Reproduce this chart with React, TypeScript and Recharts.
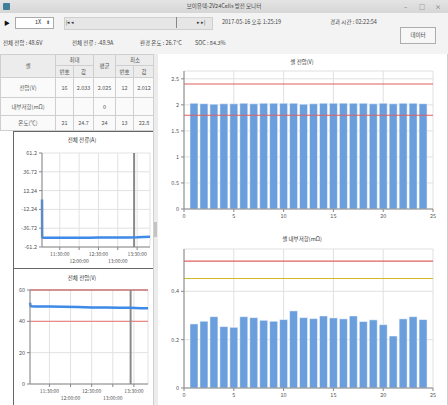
import React from 'react';
import { LineChart, Line, BarChart, Bar, XAxis, YAxis, CartesianGrid, ReferenceLine } from 'recharts';

const FONT = "'Noto Sans CJK KR', 'Noto Sans', sans-serif";

// cell numbers and per-cell values
const cellNos = [1, 2, 3, 4, 5, 6, 7, 8, 9, 10, 11, 12, 13, 14, 15, 16, 17, 18, 19, 20, 21, 22, 23, 24];
const cellVoltage = [2.03, 2.022, 2.013, 2.02, 2.02, 2.03, 2.02, 2.03, 2.03, 2.03, 2.03, 2.012, 2.02, 2.03, 2.03, 2.033, 2.03, 2.03, 2.02, 2.03, 2.02, 2.03, 2.03, 2.022];
const cellResistance = [0.265, 0.276, 0.295, 0.254, 0.251, 0.295, 0.291, 0.28, 0.276, 0.283, 0.319, 0.291, 0.287, 0.298, 0.29, 0.286, 0.298, 0.275, 0.282, 0.262, 0.215, 0.286, 0.295, 0.283];

// total current over time
const currentTimes = ['11:02:25', '11:02:40', '11:04:00', '11:15:00', '11:30:00', '11:45:00', '12:00:00', '12:15:00', '12:30:00', '12:45:00', '13:00:00', '13:15:00', '13:30:00', '13:40:00', '13:50:00'];
const currentValues = [0.8, -48.2, -49.3, -49.2, -49.2, -49.1, -49.0, -49.0, -48.9, -48.9, -48.9, -48.8, -48.6, -48.2, -47.8];

// total voltage over time
const voltageTimes = ['11:02:25', '11:03:00', '11:04:00', '11:10:00', '11:30:00', '11:50:00', '12:10:00', '12:30:00', '12:50:00', '13:10:00', '13:25:00', '13:40:00', '13:50:00'];
const voltageValues = [51.9, 50.2, 49.6, 49.5, 49.4, 49.3, 49.1, 48.9, 48.8, 48.7, 48.6, 48.4, 48.3];

const timeTicks = ['11:30:00', '12:00:00', '12:30:00', '13:00:00', '13:30:00'];
const currentTicks = [-61.2, -36.72, -12.24, 12.24, 36.72, 61.2];
const voltageTicks = [0, 20, 40, 60];
const cellVoltTicks = [0, 0.5, 1, 1.5, 2, 2.5];
const cellResTicks = [0, 0.2, 0.4];
const cellTicks = [0, 5, 10, 15, 20, 25];
const cursorTime = '13:25:19';
const timeStart = '11:02:25';
const timeEnd = '13:50:00';

const toMin = (s: string) => {
  const [h, m, sec] = s.split(':').map(Number);
  return h * 60 + m + sec / 60;
};
const fmt = (v: number) => {
  const h = Math.floor(v / 60);
  const m = Math.round(v - h * 60);
  return `${h}:${String(m).padStart(2, '0')}:00`;
};

const currentData = currentTimes.map((t, i) => ({ t: toMin(t), v: currentValues[i] }));
const voltageData = voltageTimes.map((t, i) => ({ t: toMin(t), v: voltageValues[i] }));
const cellData = cellNos.map((n, i) => ({ cell: n, volt: cellVoltage[i], res: cellResistance[i] }));

const tickStyle = { fontSize: 5.5, fill: '#555', fontFamily: FONT };

const StaggerTick = (props: any) => {
  const { x, y, payload, index } = props;
  return (
    <text x={x} y={y + (index % 2 ? 11 : 4)} textAnchor="middle" fontSize={5} fill="#555" fontFamily={FONT}>
      {fmt(payload.value)}
    </text>
  );
};

const T = ({ x, y, children, size = 6, color = '#333', anchor = 'left' }: any) => (
  <div
    style={{
      position: 'absolute',
      left: anchor === 'center' ? x - 100 : x,
      top: y - size * 0.75,
      width: anchor === 'center' ? 200 : undefined,
      textAlign: anchor === 'center' ? 'center' : 'left',
      fontSize: size,
      lineHeight: `${size * 1.5}px`,
      color,
      whiteSpace: 'nowrap',
    }}
  >
    {children}
  </div>
);

const cell: React.CSSProperties = { border: '1px solid #cfcfcf', textAlign: 'center', padding: 0, fontSize: 5.5, color: '#555' };
const head: React.CSSProperties = { ...cell, background: '#ececec' };

function StatTable() {
  return (
    <table
      style={{ position: 'absolute', left: 0, top: 54, width: 154, borderCollapse: 'collapse', tableLayout: 'fixed', background: '#fafafa' }}
    >
      <colgroup>
        <col style={{ width: 55 }} />
        <col style={{ width: 18 }} />
        <col style={{ width: 20 }} />
        <col style={{ width: 22 }} />
        <col style={{ width: 18 }} />
        <col style={{ width: 21 }} />
      </colgroup>
      <tbody>
        <tr style={{ height: 11 }}>
          <td style={head} rowSpan={2}>셀</td>
          <td style={head} colSpan={2}>최대</td>
          <td style={head} rowSpan={2}>평균</td>
          <td style={head} colSpan={2}>최소</td>
        </tr>
        <tr style={{ height: 12 }}>
          <td style={head}>번호</td>
          <td style={head}>값</td>
          <td style={head}>번호</td>
          <td style={head}>값</td>
        </tr>
        <tr style={{ height: 20 }}>
          <td style={cell}>전압(V)</td>
          <td style={cell}>16</td>
          <td style={cell}>2.033</td>
          <td style={cell}>2.025</td>
          <td style={cell}>12</td>
          <td style={cell}>2.012</td>
        </tr>
        <tr style={{ height: 18 }}>
          <td style={cell}>내부저항(mΩ)</td>
          <td style={cell}></td>
          <td style={cell}></td>
          <td style={cell}>0</td>
          <td style={cell}></td>
          <td style={cell}></td>
        </tr>
        <tr style={{ height: 15 }}>
          <td style={cell}>온도(℃)</td>
          <td style={cell}>21</td>
          <td style={cell}>24.7</td>
          <td style={cell}>24</td>
          <td style={cell}>13</td>
          <td style={cell}>22.8</td>
        </tr>
      </tbody>
    </table>
  );
}

export default function App() {
  const t0 = toMin(timeStart);
  const t1 = toMin(timeEnd);
  const cursor = toMin(cursorTime);
  const tTicks = timeTicks.map(toMin);

  return (
    <div style={{ position: 'fixed', left: 0, top: 0, width: 448, height: 405, background: '#f3f3f3', fontFamily: FONT, overflow: 'hidden' }}>
      {/* title bar */}
      <div style={{ position: 'absolute', left: 0, top: 0, width: 448, height: 13, background: 'linear-gradient(#e4e4e4, #d6d6d6)' }} />
      <div style={{ position: 'absolute', left: 3, top: 3, width: 7, height: 7, background: '#3f7f9a', borderRadius: 1 }} />
      <T x={224} y={6} anchor="center" size={5.5} color="#444">브이유텍-2V24Cells 방전 모니터</T>
      <T x={404} y={6} size={6} color="#666">–</T>
      <T x={419} y={6} size={6} color="#666">□</T>
      <T x={435} y={6} size={6} color="#666">×</T>

      {/* toolbar */}
      <T x={4} y={22} size={6} color="#111">▶</T>
      <div style={{ position: 'absolute', left: 15, top: 17, width: 37, height: 10, background: '#fff', border: '1px solid #aaa' }} />
      <T x={35} y={22} size={5.5} color="#333">1X</T>
      <T x={46} y={22} size={5} color="#555">⬍</T>
      <div style={{ position: 'absolute', left: 64, top: 17, width: 147, height: 11, background: '#e6e6e6', border: '1px solid #cfcfcf' }} />
      <T x={66} y={22} size={5} color="#333">|◂ ◂</T>
      <div style={{ position: 'absolute', left: 176, top: 17, width: 1, height: 11, background: '#888' }} />
      <T x={197} y={22} size={5} color="#333">▸ ▸|</T>
      <T x={222} y={22} size={5.5} color="#444">2017-05-16 오후 1:25:19</T>
      <T x={330} y={22} size={5.5} color="#444">경과 시간 : 02:22:54</T>
      <div
        style={{
          position: 'absolute', left: 400, top: 27, width: 34, height: 15, background: '#f7f7f7', border: '1px solid #adadad',
          fontSize: 5.5, color: '#444', textAlign: 'center', lineHeight: '15px',
        }}
      >
        데이터
      </div>

      {/* status line */}
      <T x={3} y={43} size={5.5} color="#444">전체 전압 : 48.6V</T>
      <T x={72} y={43} size={5.5} color="#444">전체 전류 : -48.9A</T>
      <T x={140} y={43} size={5.5} color="#444">환경 온도 : 26.7°C</T>
      <T x={195} y={43} size={5.5} color="#444">SOC : 84.3%</T>

      {/* left panel */}
      <div style={{ position: 'absolute', left: 0, top: 130, width: 153, height: 275, background: '#fff' }} />
      <StatTable />
      <div style={{ position: 'absolute', left: 13, top: 131, width: 139, height: 137, border: '1px solid #666', background: '#fff' }} />
      <div style={{ position: 'absolute', left: 13, top: 268, width: 139, height: 140, border: '1px solid #666', background: '#fff' }} />
      <T x={82} y={140} anchor="center" size={5.5} color="#333">전체 전류(A)</T>
      <T x={82} y={278} anchor="center" size={5.5} color="#333">전체 전압(V)</T>

      <div style={{ position: 'absolute', left: 13, top: 146 }}>
        <LineChart width={140} height={120} data={currentData} margin={{ top: 7, right: 3, left: 0, bottom: 0 }}>
          <CartesianGrid stroke="#e2e2e2" />
          <XAxis dataKey="t" type="number" domain={[t0, t1]} ticks={tTicks} interval={0} tick={<StaggerTick />} height={19} stroke="#888" tickSize={3} />
          <YAxis type="number" domain={[-61.2, 61.2]} ticks={currentTicks} interval={0} tick={tickStyle} width={29} stroke="#888" tickSize={3} />
          <ReferenceLine x={cursor} stroke="#8a8a8a" strokeWidth={2} />
          <Line dataKey="v" stroke="#3d8ae8" strokeWidth={2.5} dot={false} isAnimationActive={false} />
        </LineChart>
      </div>

      <div style={{ position: 'absolute', left: 13, top: 284 }}>
        <LineChart width={137} height={120} data={voltageData} margin={{ top: 6, right: 2, left: 0, bottom: 0 }}>
          <CartesianGrid stroke="#e2e2e2" />
          <XAxis dataKey="t" type="number" domain={[t0, t1]} ticks={tTicks} interval={0} tick={<StaggerTick />} height={20} stroke="#888" tickSize={3} />
          <YAxis type="number" domain={[0, 60]} ticks={voltageTicks} interval={0} tick={tickStyle} width={17} stroke="#888" tickSize={3} />
          <ReferenceLine y={60} stroke="#b83232" strokeWidth={1.2} />
          <ReferenceLine y={40} stroke="#ec8a8a" strokeWidth={1.2} />
          <ReferenceLine x={cursor} stroke="#8a8a8a" strokeWidth={2} />
          <Line dataKey="v" stroke="#3d8ae8" strokeWidth={2.5} dot={false} isAnimationActive={false} />
        </LineChart>
      </div>

      {/* splitter */}
      <div style={{ position: 'absolute', left: 153, top: 54, width: 5, height: 351, background: '#ececec', borderLeft: '1px solid #d0d0d0' }} />
      <div style={{ position: 'absolute', left: 154, top: 222, width: 3, height: 15, background: '#c4c4c4' }} />

      {/* right panel */}
      <div style={{ position: 'absolute', left: 158, top: 54, width: 289, height: 351, background: '#fff', borderRight: '1px solid #d0d0d0' }} />
      <T x={302} y={62} anchor="center" size={5.5} color="#333">셀 전압(V)</T>
      <T x={302} y={239} anchor="center" size={5.5} color="#333">셀 내부저항(mΩ)</T>

      <div style={{ position: 'absolute', left: 158, top: 66 }}>
        <BarChart width={283} height={153} data={cellData} margin={{ top: 5, right: 8, left: 0, bottom: 0 }}>
          <CartesianGrid stroke="#e0e0e0" />
          <XAxis dataKey="cell" type="number" domain={[0, 25]} ticks={cellTicks} interval={0} tick={tickStyle} height={10} stroke="#888" tickSize={3} />
          <YAxis type="number" domain={[0, 2.65]} ticks={cellVoltTicks} interval={0} tick={tickStyle} width={26} stroke="#888" tickSize={3} />
          <Bar dataKey="volt" fill="#6a9edc" stroke="#ffffff" strokeWidth={0.5} barSize={8} isAnimationActive={false} />
          <ReferenceLine y={2.4} stroke="#e06060" strokeWidth={1.2} />
          <ReferenceLine y={1.8} stroke="#e06060" strokeWidth={1.2} />
        </BarChart>
      </div>

      <div style={{ position: 'absolute', left: 158, top: 244 }}>
        <BarChart width={283} height={157} data={cellData} margin={{ top: 5, right: 8, left: 0, bottom: 0 }}>
          <CartesianGrid stroke="#e0e0e0" />
          <XAxis dataKey="cell" type="number" domain={[0, 25]} ticks={cellTicks} interval={0} tick={tickStyle} height={13} stroke="#888" tickSize={3} />
          <YAxis type="number" domain={[0, 0.575]} ticks={cellResTicks} interval={0} tick={tickStyle} width={26} stroke="#888" tickSize={3} />
          <Bar dataKey="res" fill="#6a9edc" stroke="#ffffff" strokeWidth={0.5} barSize={8} isAnimationActive={false} />
          <ReferenceLine y={0.525} stroke="#e06060" strokeWidth={1.2} />
          <ReferenceLine y={0.453} stroke="#d4b82c" strokeWidth={1.2} />
        </BarChart>
      </div>
    </div>
  );
}
